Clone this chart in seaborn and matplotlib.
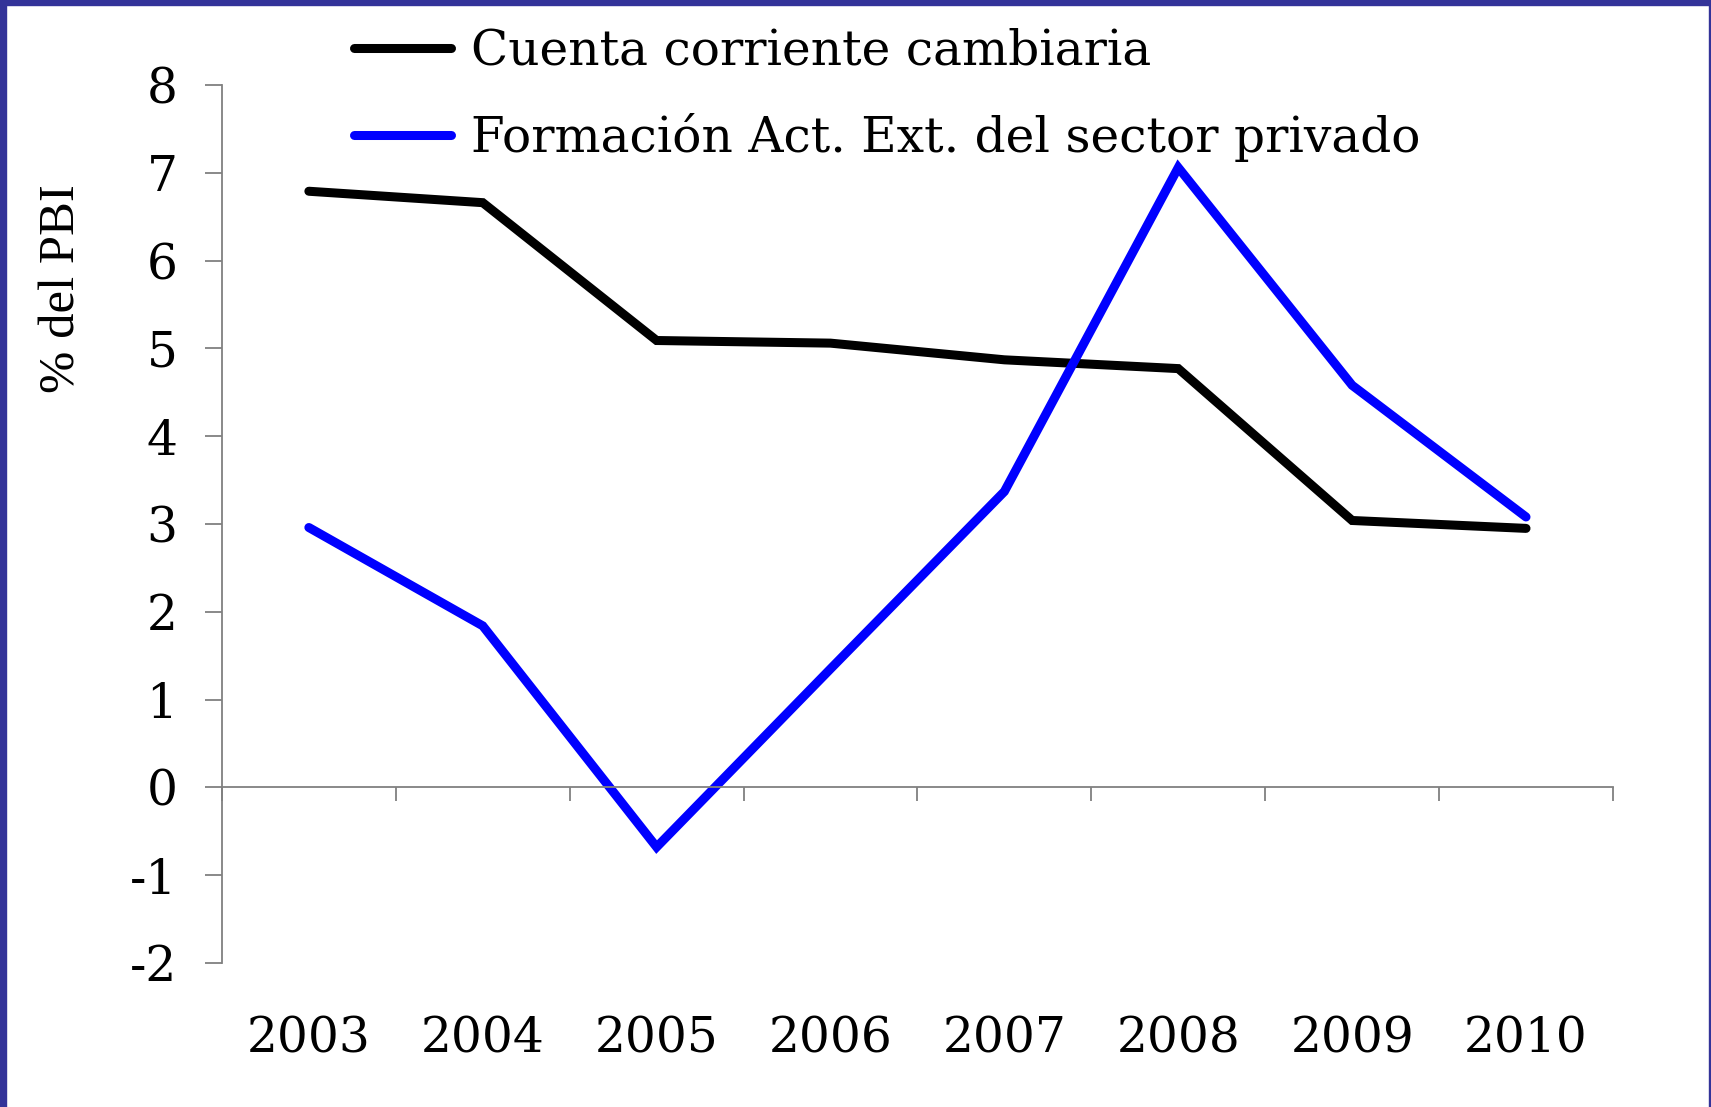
# Cuenta corriente cambiaria vs formacion de activos externos

import pandas as pd
import matplotlib.pyplot as plt
from matplotlib.patches import Rectangle
import seaborn as sns

years = ["2003", "2004", "2005", "2006", "2007", "2008", "2009", "2010"]
cuenta_corriente = [6.79, 6.66, 5.09, 5.06, 4.87, 4.77, 3.04, 2.95]
formacion_act = [2.96, 1.84, -0.68, 1.35, 3.37, 7.06, 4.58, 3.08]
series_names = ["Cuenta corriente cambiaria", "Formación Act. Ext. del sector privado"]
y_ticks = [-2, -1, 0, 1, 2, 3, 4, 5, 6, 7, 8]

pos = list(range(len(years)))
df = pd.DataFrame({
    "pos": pos * 2,
    "valor": cuenta_corriente + formacion_act,
    "serie": [series_names[0]] * len(years) + [series_names[1]] * len(years),
})

sns.set_style("white")
plt.rcParams['font.family'] = ['DejaVu Serif']
plt.rcParams['text.color'] = 'black'
plt.rcParams['xtick.color'] = 'black'
plt.rcParams['ytick.color'] = 'black'
plt.rcParams['axes.labelcolor'] = 'black'

fig = plt.figure(figsize=(17.11, 11.07), dpi=100)
ax = fig.add_axes([0.1297, 0.1301, 0.8130, 0.7931])

LW = 6.5
sns.lineplot(data=df, x="pos", y="valor", hue="serie",
             palette={series_names[0]: "black", series_names[1]: "#0000ff"},
             linewidth=LW, ax=ax, legend=False)
for ln in ax.get_lines():
    ln.set_solid_capstyle("round")
    ln.set_solid_joinstyle("miter")

ax.set_xlim(-0.5, len(years) - 0.5)
ax.set_ylim(-2, 8)

# spines
for s in ["top", "right"]:
    ax.spines[s].set_visible(False)
for s in ["left", "bottom"]:
    ax.spines[s].set_color("#808080")
    ax.spines[s].set_linewidth(1.3)
ax.spines["bottom"].set_position(("data", 0))

ax.set_yticks(y_ticks)
ax.set_yticklabels([str(v) for v in y_ticks], fontsize=35)
ax.tick_params(axis="y", direction="out", length=12, width=1.3, color="#808080",
               left=True, pad=20)

# category boundaries as major ticks, year labels as minor ticks
ax.set_xticks([p - 0.5 for p in pos] + [len(years) - 0.5])
ax.set_xticklabels([])
ax.set_xticks(pos, minor=True)
ax.set_xticklabels(years, minor=True, fontsize=35)
ax.tick_params(axis="x", which="major", direction="out", length=10, width=1.3,
               color="#808080", bottom=True)
ax.tick_params(axis="x", which="minor", length=0, pad=164)

ax.set_xlabel("")
ax.set_ylabel("% del PBI", fontsize=36.5, family="Liberation Serif")
ax.yaxis.set_label_coords(-0.098, 0.768)

# legend at top
handles = [plt.Line2D([], [], color="black", lw=LW, solid_capstyle="round"),
           plt.Line2D([], [], color="#0000ff", lw=LW, solid_capstyle="round")]
fig.legend(handles, series_names, loc="upper left", bbox_to_anchor=(0.207, 0.975),
           frameon=False, fontsize=35, handlelength=2.0, handletextpad=0.4,
           labelspacing=0.78, borderaxespad=0, borderpad=0)

# slide border
fig.patches.append(Rectangle((0, 0), 6 / 1711, 1, transform=fig.transFigure,
                             color="#333399", zorder=10))
fig.patches.append(Rectangle((0, 1 - 5 / 1107), 1, 5 / 1107, transform=fig.transFigure,
                             color="#333399", zorder=10))
fig.patches.append(Rectangle((1 - 2 / 1711, 0), 2 / 1711, 1, transform=fig.transFigure,
                             color="#333399", zorder=10))

plt.savefig("out.png", dpi=100)
